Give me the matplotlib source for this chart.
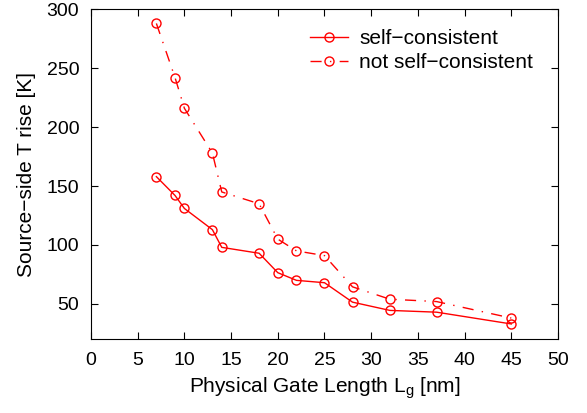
import numpy as np
import matplotlib
matplotlib.use("Agg")
import matplotlib.pyplot as plt

FONT_SIZE = 15

matplotlib.rcParams['font.family'] = ['Liberation Sans', 'DejaVu Sans']
matplotlib.rcParams.update({'font.size': FONT_SIZE})

gate_length = [7, 9, 10, 13, 14, 18, 20, 22, 25, 28, 32, 37, 45]
t_rise_sc = [158, 142, 131, 113, 98, 93, 76.5, 70, 68, 51.5, 44.5, 43, 33]
t_rise_not_sc = [288, 242, 216, 178, 145, 135, 105, 95, 91, 64.5, 54, 52, 38]

fig = plt.figure(figsize=(5.87, 4.13), dpi=100)
axes = fig.add_axes([0.155, 0.1785, 0.7956, 0.799])

axes.plot(gate_length, t_rise_sc, color='red', linewidth=1, marker='o',
          markersize=6.5, markerfacecolor='none', markeredgewidth=1,
          label='self\u2212consistent')
axes.plot(gate_length, t_rise_not_sc, color='red', linewidth=1, marker='o',
          markersize=6.5, markerfacecolor='none', markeredgewidth=1,
          linestyle=(0, (8, 6, 1, 6)), label='not self\u2212consistent')

axes.set_xlim(0, 50)
axes.set_ylim(20, 300)
axes.xaxis.set_ticks(np.arange(0, 51, 5))
axes.yaxis.set_ticks(np.arange(50, 301, 50))
axes.tick_params(direction='in', top=True, right=True, length=5)
axes.tick_params(axis='x', pad=9.5, labelsize=14)
axes.tick_params(axis='y', pad=8.4, labelsize=14)

axes.set_xlabel("Physical Gate Length L$_\\mathregular{g}$ [nm]", labelpad=4)
axes.set_ylabel("Source\u2212side T rise [K]", labelpad=8)

axes.legend(loc='upper right', bbox_to_anchor=(0.965, 0.965), frameon=False,
            handlelength=1.8, borderaxespad=0, labelspacing=0.25,
            handletextpad=0.55)

fig.savefig('out.png', dpi=100)
